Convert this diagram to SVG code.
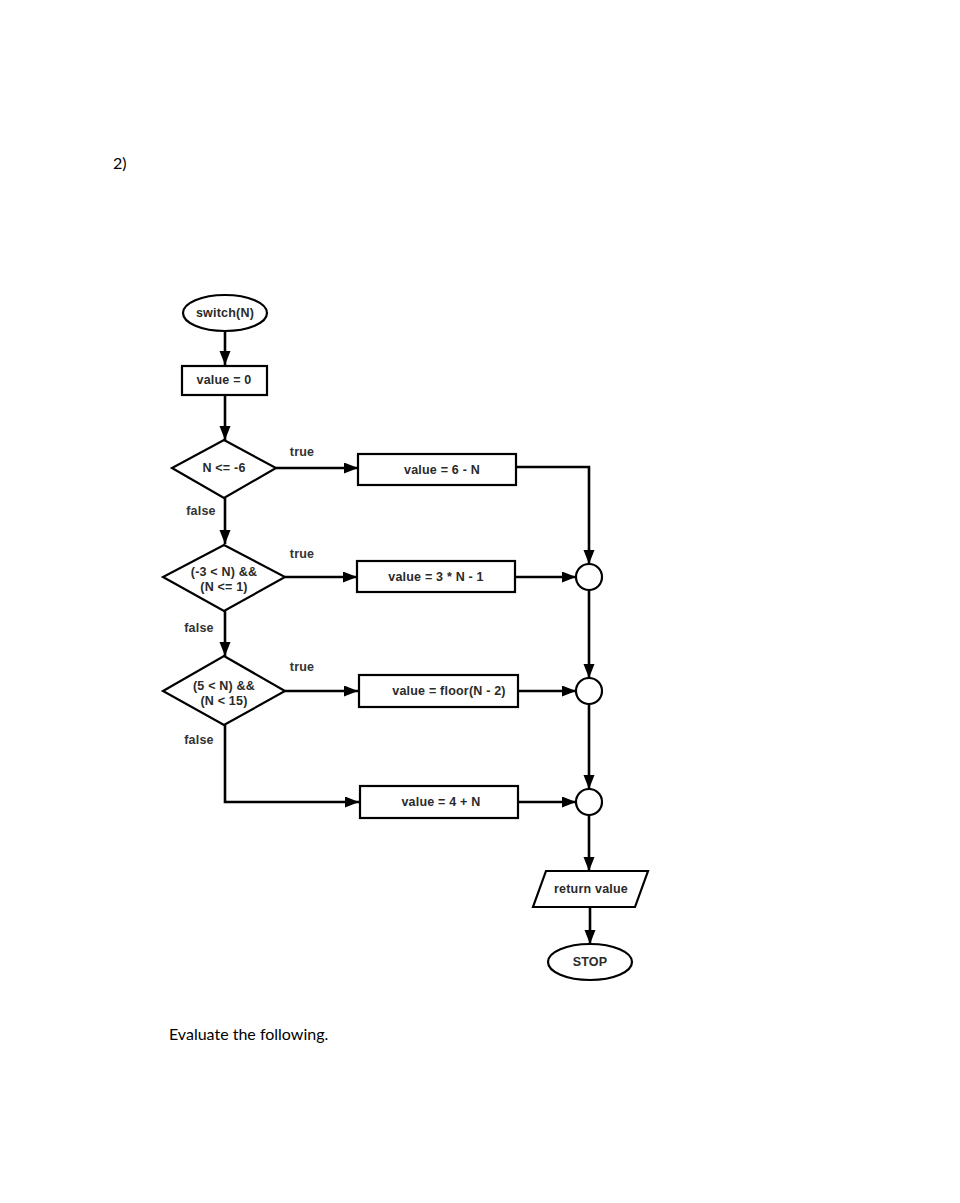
<svg xmlns="http://www.w3.org/2000/svg" width="960" height="1203" viewBox="0 0 960 1203">
<style>
.shape{fill:#fff;stroke:#000;stroke-width:2.2}
.conn{fill:none;stroke:#000;stroke-width:2.6}
.t{font-family:"Liberation Sans",Arial,sans-serif;font-size:12.5px;fill:#2a2a2a;text-anchor:middle;dominant-baseline:central;font-weight:bold;letter-spacing:0.2px}
.lbl{font-family:"Liberation Sans",Arial,sans-serif;font-size:12.5px;fill:#333;text-anchor:middle;dominant-baseline:central;font-weight:bold;letter-spacing:0.2px}
.doc{font-family:Lato,"Open Sans",sans-serif;font-size:16px;fill:#000}
</style>
<defs>
<marker id="arr" markerUnits="userSpaceOnUse" markerWidth="16" markerHeight="12" refX="14" refY="5.5" orient="auto">
<path d="M0,0 L14,5.5 L0,11 z" fill="#000"/>
</marker>
</defs>
<rect width="960" height="1203" fill="#fff"/>
<text class="doc" x="113" y="169">2)</text>
<text class="doc" x="169" y="1040">Evaluate the following.</text>

<g id="connectors">
<line class="conn" x1="225" y1="331" x2="225" y2="365" marker-end="url(#arr)"/>
<line class="conn" x1="225" y1="395" x2="225" y2="440" marker-end="url(#arr)"/>
<line class="conn" x1="276" y1="468" x2="358" y2="468" marker-end="url(#arr)"/>
<line class="conn" x1="225" y1="498" x2="225" y2="544" marker-end="url(#arr)"/>
<line class="conn" x1="285" y1="577" x2="357" y2="577" marker-end="url(#arr)"/>
<line class="conn" x1="225" y1="611" x2="225" y2="656" marker-end="url(#arr)"/>
<line class="conn" x1="285" y1="691" x2="358" y2="691" marker-end="url(#arr)"/>
<polyline class="conn" points="225,725 225,802 359,802" marker-end="url(#arr)"/>
<polyline class="conn" points="516,467 589,467 589,564" marker-end="url(#arr)"/>
<line class="conn" x1="516" y1="577" x2="576" y2="577" marker-end="url(#arr)"/>
<line class="conn" x1="518" y1="691" x2="576" y2="691" marker-end="url(#arr)"/>
<line class="conn" x1="518" y1="802" x2="576" y2="802" marker-end="url(#arr)"/>
<line class="conn" x1="589" y1="590" x2="589" y2="678" marker-end="url(#arr)"/>
<line class="conn" x1="589" y1="704" x2="589" y2="789" marker-end="url(#arr)"/>
<line class="conn" x1="589" y1="815" x2="589" y2="871" marker-end="url(#arr)"/>
<line class="conn" x1="590" y1="907" x2="590" y2="944" marker-end="url(#arr)"/>
<text class="lbl" x="302" y="452">true</text>
<text class="lbl" x="201" y="511">false</text>
<text class="lbl" x="302" y="554">true</text>
<text class="lbl" x="199" y="628">false</text>
<text class="lbl" x="302" y="667">true</text>
<text class="lbl" x="199" y="740">false</text>
</g>

<g id="start">
<ellipse class="shape" cx="225" cy="313" rx="42" ry="18"/>
<text class="t" x="225" y="313">switch(N)</text>
</g>
<g id="init">
<rect class="shape" x="182" y="366" width="85" height="29"/>
<text class="t" x="224" y="380">value = 0</text>
</g>
<g id="cond1">
<polygon class="shape" points="224,440 276,468 224,498 172,468"/>
<text class="t" x="224" y="468">N &lt;= -6</text>
</g>
<g id="cond2">
<polygon class="shape" points="224,545 285,577 224,611 163,577"/>
<text class="t" x="224" y="572">(-3 &lt; N) &amp;&amp;</text>
<text class="t" x="224" y="587">(N &lt;= 1)</text>
</g>
<g id="cond3">
<polygon class="shape" points="224,656 285,691 224,725 163,691"/>
<text class="t" x="224" y="686">(5 &lt; N) &amp;&amp;</text>
<text class="t" x="224" y="701">(N &lt; 15)</text>
</g>
<g id="box1">
<rect class="shape" x="358" y="454" width="158" height="31"/>
<text class="t" x="442" y="470">value = 6 - N</text>
</g>
<g id="box2">
<rect class="shape" x="357" y="561" width="158" height="31"/>
<text class="t" x="436" y="577">value = 3 * N - 1</text>
</g>
<g id="box3">
<rect class="shape" x="359" y="675" width="159" height="32"/>
<text class="t" x="449" y="691">value = floor(N - 2)</text>
</g>
<g id="box4">
<rect class="shape" x="360" y="786" width="158" height="32"/>
<text class="t" x="441" y="802">value = 4 + N</text>
</g>
<g id="join1">
<circle class="shape" cx="589" cy="577" r="13"/>
</g>
<g id="join2">
<circle class="shape" cx="589" cy="691" r="13"/>
</g>
<g id="join3">
<circle class="shape" cx="589" cy="802" r="13"/>
</g>
<g id="output">
<polygon class="shape" points="546,871 648,871 635,907 533,907"/>
<text class="t" x="591" y="889">return value</text>
</g>
<g id="stop">
<ellipse class="shape" cx="590" cy="962" rx="42" ry="18"/>
<text class="t" x="590" y="962">STOP</text>
</g>
</svg>
